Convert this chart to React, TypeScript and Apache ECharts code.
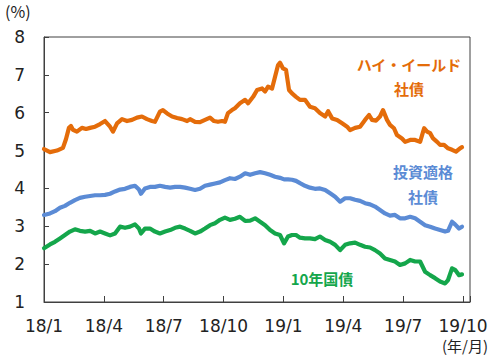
import React, { useEffect, useRef } from "react";
import * as echarts from "echarts";

// x positions are months elapsed since 2018/1
const tickLabels = ["18/1", "18/4", "18/7", "18/10", "19/1", "19/4", "19/7", "19/10"];

const hyMonths = [
  0, 0.3, 0.65, 0.95, 1.1, 1.25, 1.35, 1.45, 1.65, 1.9, 2.11, 2.31, 2.56, 2.81, 3.06, 3.31, 3.46, 3.66,
  3.91, 4.16, 4.41, 4.66, 4.91, 5.16, 5.41, 5.56, 5.81, 5.96, 6.17, 6.42, 6.67, 6.92, 7.17, 7.32, 7.57,
  7.82, 8.07, 8.32, 8.52, 8.72, 8.92, 9.07, 9.22, 9.42, 9.57, 9.82, 10.08, 10.23, 10.48, 10.68, 10.93,
  11.08, 11.23, 11.43, 11.58, 11.73, 11.83, 11.98, 12.13, 12.28, 12.43, 12.63, 12.83, 13.08, 13.33, 13.58,
  13.83, 14.09, 14.24, 14.44, 14.69, 14.94, 15.19, 15.34, 15.59, 15.84, 16.09, 16.29, 16.44, 16.64, 16.84,
  16.99, 17.19, 17.34, 17.54, 17.69, 17.94, 18.1, 18.35, 18.6, 18.85, 19.05, 19.2, 19.35, 19.5, 19.7,
  19.85, 20.05, 20.25, 20.45, 20.65, 20.85, 20.95,
];
const hyValues = [
  5.04, 4.96, 5.0, 5.07, 5.3, 5.6, 5.65, 5.55, 5.5, 5.6, 5.57, 5.6, 5.63, 5.7, 5.78, 5.63, 5.5, 5.72,
  5.83, 5.78, 5.81, 5.87, 5.9, 5.83, 5.78, 5.76, 6.03, 6.07, 5.98, 5.9, 5.86, 5.83, 5.78, 5.83, 5.76,
  5.75, 5.81, 5.87, 5.78, 5.76, 5.78, 5.76, 5.99, 6.07, 6.12, 6.25, 6.34, 6.25, 6.42, 6.6, 6.64,
  6.56, 6.69, 6.64, 6.95, 7.26, 7.32, 7.17, 7.13, 6.6, 6.51, 6.42, 6.34, 6.34, 6.16, 6.12,
  5.99, 5.9, 6.04, 5.85, 5.81, 5.72, 5.63, 5.54, 5.6, 5.63, 5.81, 5.94, 5.81, 5.79, 5.9,
  6.07, 5.81, 5.68, 5.59, 5.41, 5.32, 5.23, 5.28, 5.28, 5.23, 5.59, 5.5, 5.46, 5.32, 5.23,
  5.15, 5.15, 5.06, 5.02, 4.97, 5.06, 5.09,
];

const gradeMonths = [
  0, 0.3, 0.55, 0.8, 1.05, 1.3, 1.55, 1.8, 2.06, 2.31, 2.56, 2.81, 3.06, 3.31, 3.56, 3.81, 4.06, 4.31,
  4.56, 4.76, 4.86, 5.06, 5.31, 5.56, 5.81, 6.07, 6.32, 6.57, 6.82, 7.07, 7.32, 7.57, 7.82, 8.07, 8.32,
  8.57, 8.82, 9.07, 9.32, 9.57, 9.82, 10.08, 10.33, 10.58, 10.83, 11.08, 11.33, 11.58, 11.83, 12.03,
  12.23, 12.43, 12.63, 12.83, 13.08, 13.33, 13.58, 13.83, 14.09, 14.34, 14.59, 14.84, 15.09, 15.34,
  15.59, 15.84, 16.09, 16.34, 16.59, 16.84, 17.09, 17.34, 17.59, 17.84, 18.1, 18.35, 18.6, 18.85,
  19.1, 19.35, 19.6, 19.85, 20.1, 20.25, 20.45, 20.6, 20.8, 20.95,
];
const igValues = [
  3.3, 3.34, 3.4, 3.49, 3.54, 3.62, 3.69, 3.75, 3.78, 3.8, 3.82, 3.82, 3.83, 3.86, 3.92, 3.97, 3.99, 4.04,
  4.07, 3.97, 3.86, 4.0, 4.04, 4.04, 4.07, 4.04, 4.02, 4.04, 4.04, 4.02, 3.99, 3.96, 3.99, 4.07, 4.1,
  4.13, 4.16, 4.22, 4.27, 4.25, 4.31, 4.4, 4.36, 4.4, 4.43, 4.4, 4.36, 4.31, 4.28, 4.24,
  4.24, 4.23, 4.2, 4.14, 4.07, 4.02, 3.99, 4.0, 3.96, 3.87, 3.78, 3.65, 3.74, 3.74,
  3.7, 3.67, 3.61, 3.58, 3.52, 3.43, 3.34, 3.28, 3.3, 3.21, 3.21, 3.25, 3.21, 3.12,
  3.03, 2.99, 2.94, 2.9, 2.86, 2.88, 3.12, 3.05, 2.94, 2.99,
];
const jgbValues = [
  2.42, 2.52, 2.59, 2.68, 2.77, 2.86, 2.92, 2.88, 2.86, 2.88, 2.81, 2.86, 2.81, 2.76, 2.81, 2.99, 2.96, 2.99,
  3.05, 2.94, 2.81, 2.94, 2.94, 2.86, 2.81, 2.86, 2.9, 2.96, 2.99, 2.94, 2.88, 2.81, 2.86, 2.94, 3.03,
  3.08, 3.17, 3.23, 3.17, 3.2, 3.25, 3.14, 3.15, 3.21, 3.12, 3.03, 2.9, 2.81, 2.77, 2.55,
  2.73, 2.77, 2.77, 2.7, 2.68, 2.68, 2.66, 2.73, 2.64, 2.59, 2.51, 2.37, 2.51, 2.55,
  2.57, 2.51, 2.46, 2.44, 2.37, 2.28, 2.15, 2.11, 2.07, 1.98, 2.02, 2.11, 2.07, 2.07,
  1.8, 1.71, 1.63, 1.54, 1.49, 1.58, 1.89, 1.85, 1.71, 1.73,
];

const ORANGE = "#E46C0A";
const BLUE = "#5B8BD5";
const GREEN = "#14A64B";
const NUM_FONT = "DejaVu Sans, Verdana, sans-serif";
const JP_FONT = "'Noto Sans CJK JP', sans-serif";

const zip = (xs: number[], ys: number[]) => xs.map((x, i) => [x, ys[i]]);

export default function App() {
  const ref = useRef<HTMLDivElement>(null);
  useEffect(() => {
    if (!ref.current) return;
    const chart = echarts.init(ref.current, null, { renderer: "svg" });
    const lineSeries = (name: string, data: number[][], color: string) => ({
      name,
      type: "line",
      data,
      showSymbol: false,
      symbol: "none",
      smooth: false,
      lineStyle: { color, width: 4.2, join: "round", cap: "round" },
      z: 3,
    });
    chart.setOption({
      animation: false,
      backgroundColor: "#ffffff",
      grid: {
        left: 44,
        top: 37,
        right: 30,
        bottom: 55,
        show: true,
        borderColor: "#404040",
        borderWidth: 1,
        backgroundColor: "transparent",
      },
      xAxis: {
        type: "value",
        min: 0,
        max: 21.35,
        interval: 3,
        splitLine: { show: false },
        axisLine: { show: true, lineStyle: { color: "#404040", width: 1 } },
        axisTick: { show: true, inside: true, length: 6, lineStyle: { color: "#404040" } },
        axisLabel: {
          margin: 15,
          fontSize: 17,
          fontFamily: NUM_FONT,
          color: "#222",
          formatter: (v: number) => {
            const k = v / 3;
            if (Math.abs(k - Math.round(k)) > 1e-6) return "";
            return tickLabels[Math.round(k)] ?? "";
          },
        },
      },
      yAxis: {
        type: "value",
        min: 1,
        max: 8,
        interval: 1,
        splitLine: { show: false },
        axisLine: { show: true, lineStyle: { color: "#404040", width: 1 } },
        axisTick: { show: true, inside: true, length: 5, lineStyle: { color: "#404040" } },
        axisLabel: {
          margin: 19,
          fontSize: 17,
          fontFamily: NUM_FONT,
          color: "#222",
        },
      },
      series: [
        lineSeries("ハイ・イールド社債", zip(hyMonths, hyValues), ORANGE),
        lineSeries("投資適格社債", zip(gradeMonths, igValues), BLUE),
        lineSeries("10年国債", zip(gradeMonths, jgbValues), GREEN),
      ],
      graphic: [
        {
          type: "text",
          left: 5,
          top: 3,
          style: { text: "(%)", fontSize: 16, fontFamily: JP_FONT, fill: "#222" },
        },
        {
          type: "text",
          left: 442,
          top: 338,
          style: { text: "(年/月)", fontSize: 15, fontFamily: JP_FONT, fill: "#222" },
        },
        {
          type: "text",
          x: 409,
          y: 76,
          style: {
            text: "ハイ・イールド\n社債",
            fontSize: 15,
            fontWeight: "bold",
            fontFamily: JP_FONT,
            fill: ORANGE,
            align: "center",
            verticalAlign: "middle",
            lineHeight: 24,
          },
        },
        {
          type: "text",
          x: 423,
          y: 184,
          style: {
            text: "投資適格\n社債",
            fontSize: 15,
            fontWeight: "bold",
            fontFamily: JP_FONT,
            fill: BLUE,
            align: "center",
            verticalAlign: "middle",
            lineHeight: 25,
          },
        },
        {
          type: "text",
          x: 322,
          y: 278,
          style: {
            text: "10年国債",
            fontSize: 15,
            fontWeight: "bold",
            fontFamily: JP_FONT,
            fill: GREEN,
            align: "center",
            verticalAlign: "middle",
          },
        },
      ],
    });
    return () => chart.dispose();
  }, []);
  return (
    <div
      ref={ref}
      style={{ position: "fixed", left: 0, top: 0, width: 500, height: 357, background: "#fff" }}
    />
  );
}
